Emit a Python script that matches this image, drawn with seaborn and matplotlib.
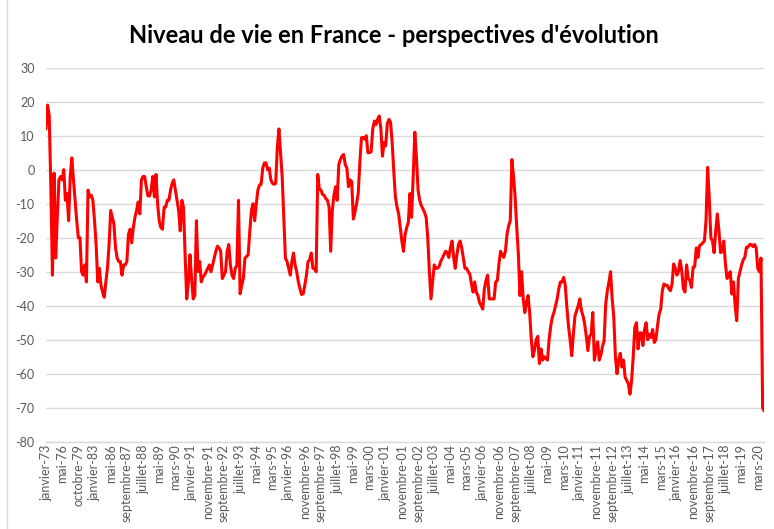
import numpy as np
import pandas as pd
import matplotlib
matplotlib.use("Agg")
import matplotlib.pyplot as plt
import seaborn as sns
from matplotlib.lines import Line2D

# ---------------- DATA ----------------
# solde d'opinion, one value per survey (3 per year until 1986, monthly after)
solde = [
    12, 19, 16, -5, -31, -1, -26, -14, -3, -2,
    -3, 0, -9, -7, -15, -2, 3.5, -3, -9, -15,
    -20, -20, -30, -31, -28, -33, -6, -8, -7.5, -9,
    -15, -22, -33, -29, -34, -36, -37.5, -33, -29, -22,
    -12, -14, -16, -23, -26, -27, -27, -31, -28, -28,
    -27, -19, -17.5, -21.5, -17, -14, -12, -9.5, -13, -3,
    -2, -2, -5, -7.7, -7.7, -6, -2, -8, -1.4, -10,
    -15, -17, -17.5, -11, -11, -9, -9, -6, -4, -3,
    -6, -9, -12, -18, -9, -11, -25, -38, -33, -25,
    -32, -38, -37, -15, -30, -27, -33, -31.5, -31, -30,
    -29, -28, -30, -28, -26, -24, -22.5, -23, -24, -32,
    -31, -30, -24, -22, -28, -31, -32, -29, -28, -9,
    -36.5, -34, -32, -26, -25.5, -25, -18, -12, -10, -15,
    -10, -6, -4.5, -4.3, 0.5, 2, 2, 0, 0.5, -3,
    -4, -4.3, -4, 6.5, 12, 5, -2, -14, -26, -27,
    -29, -31, -27, -24.5, -28, -30, -33, -35, -36.7, -36.5,
    -34, -31, -27, -26.5, -24.5, -29, -29, -30, -1.4, -5.8,
    -6, -7.3, -7.5, -8.5, -9, -11, -24, -12, -7.5, -5,
    -9, 1.5, 3, 4, 4.5, 1.5, 0.5, -5, -3, -3.5,
    -14.5, -12.5, -10, -7, 2, 9.4, 9.5, 9, 10, 5,
    5, 5.3, 12, 14.3, 13.3, 14.8, 15.8, 12, 4, 8,
    7, 13.5, 14.8, 14, 8, -0.5, -8, -11, -13, -17,
    -21, -24, -19, -17, -15.5, -7, -14, -2, 11, 3.6,
    -6, -9, -10.5, -11.5, -12.5, -14, -20, -30, -38, -33,
    -28, -29, -29, -28.5, -27, -26, -25, -24, -24.3, -25.8,
    -23, -21, -25.8, -29, -25, -22, -21, -23, -26, -29,
    -29, -30, -30.7, -33.6, -36, -33, -36, -37, -39, -40,
    -41, -35, -32.6, -31, -38, -38, -38, -38, -33, -32.6,
    -27.7, -24, -25, -25.8, -24, -19, -16.5, -15, 3, -2,
    -8, -17, -24.8, -37, -30, -38, -42, -39, -37, -42,
    -50, -55, -53, -50, -49, -57, -52.7, -56, -55, -55.5,
    -56, -50, -46, -43.4, -42, -40, -38, -35, -33, -33,
    -31.7, -34, -40.5, -46, -50, -54.7, -48.4, -43, -41.5, -40,
    -38, -41.5, -43, -45.4, -49, -53.2, -49, -48.4, -42, -56,
    -53, -50.6, -56, -54.5, -52, -50.3, -39.5, -35.6, -33, -30,
    -38, -43.4, -55, -60, -56, -54, -58, -56, -61, -62,
    -63, -66, -62, -55, -46.4, -45, -52.7, -48, -48, -51.7,
    -47, -45, -50, -48.4, -49.3, -47, -50.8, -50, -46, -42.5,
    -41, -35.6, -33.6, -34, -34, -35, -35.6, -33.6, -27.7, -29,
    -31, -30, -26.7, -29.7, -35, -36, -28, -32, -32.5, -34.6,
    -28.7, -28.5, -23, -25.8, -22.4, -22, -21.5, -21, -15, 0.7,
    -8.3, -20, -21, -24.4, -18, -13, -18, -24.4, -24, -21,
    -27.7, -32, -30.7, -30, -36.6, -33, -40, -44.4, -32, -30,
    -28, -26.5, -25.8, -22.8, -22.8, -22, -22, -22.6, -22, -23,
    -29, -30, -26, -70, -71,
]

# one label every 10 categories
tick_labels = [
    "janvier-73", "mai-76", "octobre-79", "janvier-83", "mai-86",
    "septembre-87", "juillet-88", "mai-89", "mars-90", "janvier-91",
    "novembre-91", "septembre-92", "juillet-93", "mai-94", "mars-95",
    "janvier-96", "novembre-96", "septembre-97", "juillet-98", "mai-99",
    "mars-00", "janvier-01", "novembre-01", "septembre-02", "juillet-03",
    "mai-04", "mars-05", "janvier-06", "novembre-06", "septembre-07",
    "juillet-08", "mai-09", "mars-10", "janvier-11", "novembre-11",
    "septembre-12", "juillet-13", "mai-14", "mars-15", "janvier-16",
    "novembre-16", "septembre-17", "juillet-18", "mai-19", "mars-20",
]

y_ticks = [-80, -70, -60, -50, -40, -30, -20, -10, 0, 10, 20, 30]

TITLE = "Niveau de vie en France - perspectives d'évolution"

df = pd.DataFrame({"pos": np.arange(len(solde)), "solde": solde})

# ---------------- STYLE ----------------
sns.set_style("white")
plt.rcParams["font.family"] = ["Lato", "DejaVu Sans"]
plt.rcParams["axes.unicode_minus"] = False

fig = plt.figure(figsize=(7.74, 5.29), dpi=100)
ax = fig.add_axes([0.0594, 0.165, 0.928, 0.707])

sns.lineplot(data=df, x="pos", y="solde", color="#ff0000", linewidth=2.2, ax=ax)

ax.set_xlim(0, len(solde) - 1)
ax.set_ylim(-80, 30)
ax.set_yticks(y_ticks)
ax.set_yticklabels([str(v) for v in y_ticks])
ax.set_xticks(np.arange(len(tick_labels)) * 10)
ax.set_xticklabels(tick_labels, rotation=90)

ax.grid(axis="y", color="#d9d9d9", linewidth=1)
ax.set_axisbelow(True)
for side in ["left", "right", "top"]:
    ax.spines[side].set_visible(False)
ax.spines["bottom"].set_color("#d9d9d9")
ax.spines["bottom"].set_linewidth(1)

ax.tick_params(axis="both", length=0, colors="#595959", labelsize=9)
ax.tick_params(axis="y", pad=8)
ax.tick_params(axis="x", pad=2)
ax.set_xlabel("")
ax.set_ylabel("")

fig.text(0.509, 0.932, TITLE, ha="center", va="center",
         fontsize=17, fontweight="bold", color="#000000")

# faint chart frame edge on the left
fig.add_artist(Line2D([0.009, 0.009], [0, 1], transform=fig.transFigure,
                      color="#d9d9d9", linewidth=1))

fig.savefig("out.png", dpi=100)
